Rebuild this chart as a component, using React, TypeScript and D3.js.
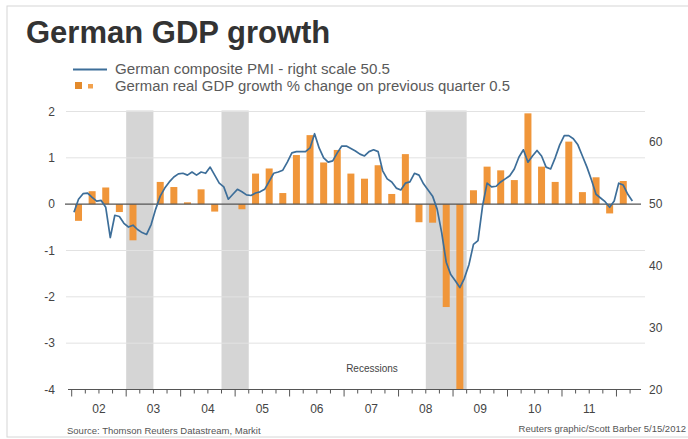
import React from "react";
import * as d3 from "d3";

const years = ["02", "03", "04", "05", "06", "07", "08", "09", "10", "11"];
const leftTicks = [2, 1, 0, -1, -2, -3, -4];
const rightTicks = [60, 50, 40, 30, 20];

// Quarterly real GDP growth, 2002 Q1 .. 2012 Q1
const gdp = [
  -0.36, 0.28, 0.36, -0.17,
  -0.78, 0.0, 0.48, 0.37,
  0.04, 0.32, -0.16, 0.0,
  -0.11, 0.66, 0.77, 0.24,
  1.06, 1.49, 0.9, 1.17,
  0.66, 0.55, 0.84, 0.22,
  1.08, -0.39, -0.4, -2.22,
  -4.0, 0.3, 0.81, 0.73,
  0.52, 1.96, 0.81, 0.48,
  1.35, 0.26, 0.58, -0.2,
  0.5,
];

// Monthly composite PMI, Jan 2002 .. Apr 2012
const pmi = [
  48.7, 50.8, 51.7, 51.8, 51.1, 50.5, 50.6, 49.5, 44.6, 48.2, 48.0, 46.9,
  46.3, 46.6, 45.9, 45.4, 45.1, 46.7, 49.2, 51.3, 52.6, 53.6, 54.4, 54.9,
  55.0, 54.7, 55.2, 54.7, 55.2, 55.0, 56.0, 54.7, 53.4, 52.8, 50.8, 51.6,
  52.4, 52.0, 51.5, 51.4, 51.8, 52.0, 52.4, 53.7, 55.0, 55.2, 55.5, 56.8,
  58.3, 58.5, 58.5, 58.5, 59.1, 61.4, 59.1, 57.5, 56.8, 57.0, 58.3, 59.4,
  59.4, 59.0, 58.6, 58.1, 57.8, 58.5, 58.8, 58.5, 55.4, 54.1, 53.6, 52.6,
  52.3, 53.4, 53.6, 55.0, 54.7, 53.3, 52.3, 51.3, 49.2, 45.4, 40.6, 38.6,
  37.6, 36.5, 38.0, 40.2, 43.5, 44.1, 49.7, 53.4, 52.8, 52.9, 53.6, 54.1,
  54.6, 55.7, 57.6, 58.8, 56.8, 57.8, 58.7, 57.8, 56.0, 55.7, 57.5, 59.6,
  61.1, 61.1, 60.6, 59.6, 57.8, 56.0, 53.9, 51.6, 51.0, 50.4, 49.5, 50.5,
  53.4, 53.1, 51.6, 50.5,
];

// Recession periods (fractional years)
const recessionStart = [2003.0, 2004.75, 2008.5];
const recessionEnd = [2003.5, 2005.25, 2009.25];

const W = 688;
const H = 439;

export default function App() {
  const x = d3.scaleLinear().domain([2002, 2012.5]).range([71.7, 643.7]);
  const yL = d3.scaleLinear().domain([-4, 2]).range([389.5, 111.5]);
  const yR = d3.scaleLinear().domain([20, 65]).range([389.5, 111.5]);

  const line = d3
    .line<number>()
    .x((_, i) => x(2002 + (i + 0.5) / 12))
    .y((d) => yR(d))
    .curve(d3.curveLinear);

  const quarterTicks = d3.range(0, 42).map((q) => 2002 + q / 4);
  const barW = 7;
  const font = "'Liberation Sans', Arial, sans-serif";

  return (
    <svg
      width={W}
      height={H}
      style={{ position: "absolute", left: 0, top: 0, background: "#fff" }}
      fontFamily={font}
    >
      <rect x={0} y={0} width={W} height={H} fill="#fff" />
      <rect x={7} y={6} width={W} height={H - 8} fill="none" stroke="#d6d6d6" />

      <text x={26} y={43} fontSize={31} fontWeight="bold" fill="#333">
        German GDP growth
      </text>

      {/* legend */}
      <line x1={73} x2={107} y1={69.5} y2={69.5} stroke="#3d6e99" strokeWidth={2} />
      <text x={115} y={74} fontSize={14} fill="#5a5a5a" textLength={275} lengthAdjust="spacingAndGlyphs">
        German composite PMI - right scale 50.5
      </text>
      <rect x={75} y={82} width={7} height={7} fill="#e38a2c" />
      <rect x={88} y={84} width={5} height={4.5} fill="#f2a24e" />
      <text x={115} y={91} fontSize={14} fill="#5a5a5a" textLength={395} lengthAdjust="spacingAndGlyphs">
        German real GDP growth % change on previous quarter 0.5
      </text>

      {/* recession shading */}
      {recessionStart.map((s, i) => (
        <rect
          key={"r" + i}
          x={x(s)}
          y={yL(2) - 1}
          width={x(recessionEnd[i]) - x(s)}
          height={yL(-4) - yL(2) + 1}
          fill="#d5d5d5"
        />
      ))}

      {/* gridlines */}
      {leftTicks
        .filter((t) => t !== 0 && t !== -4)
        .map((t) => (
          <line
            key={"g" + t}
            x1={66}
            x2={645}
            y1={yL(t)}
            y2={yL(t)}
            stroke="#e2e2e2"
            strokeWidth={1}
          />
        ))}

      {/* bars */}
      {gdp.map((v, i) => {
        const cx = x(2002 + i / 4 + 0.125);
        const y0 = yL(0);
        const y1 = yL(v);
        return (
          <rect
            key={"b" + i}
            x={cx - barW / 2}
            y={Math.min(y0, y1)}
            width={barW}
            height={Math.abs(y1 - y0)}
            fill="#f0963a"
          />
        );
      })}

      {/* zero line */}
      <line x1={65} x2={641} y1={yL(0)} y2={yL(0)} stroke="#555" strokeWidth={1.2} />

      {/* PMI line */}
      <path d={line(pmi) || ""} fill="none" stroke="#3d6e99" strokeWidth={1.7} strokeLinejoin="round" />

      {/* x axis */}
      <line x1={68} x2={641} y1={yL(-4)} y2={yL(-4)} stroke="#555" strokeWidth={1.2} />
      {quarterTicks.map((t, i) => (
        <line
          key={"t" + i}
          x1={x(t)}
          x2={x(t)}
          y1={yL(-4)}
          y2={yL(-4) + (i % 4 === 0 ? 7 : 4)}
          stroke="#555"
          strokeWidth={1}
        />
      ))}
      {years.map((yy, i) => (
        <text
          key={"y" + yy}
          x={x(2002 + i + 0.5)}
          y={413}
          fontSize={12}
          fill="#444"
          textAnchor="middle"
        >
          {yy}
        </text>
      ))}

      {/* left axis labels */}
      {leftTicks.map((t) => (
        <text key={"l" + t} x={55} y={yL(t) + 4} fontSize={12} fill="#444" textAnchor="end">
          {t}
        </text>
      ))}
      {/* right axis labels */}
      {rightTicks.map((t) => (
        <text key={"rt" + t} x={649} y={yR(t) + 4} fontSize={12} fill="#444">
          {t}
        </text>
      ))}

      <text x={372} y={372} fontSize={10} fill="#444" textAnchor="middle">
        Recessions
      </text>

      <text x={67} y={434} fontSize={9.5} fill="#555">
        Source: Thomson Reuters Datastream, Markit
      </text>
      <text x={686} y={432} fontSize={9.5} fill="#555" textAnchor="end">
        Reuters graphic/Scott Barber 5/15/2012
      </text>
    </svg>
  );
}
